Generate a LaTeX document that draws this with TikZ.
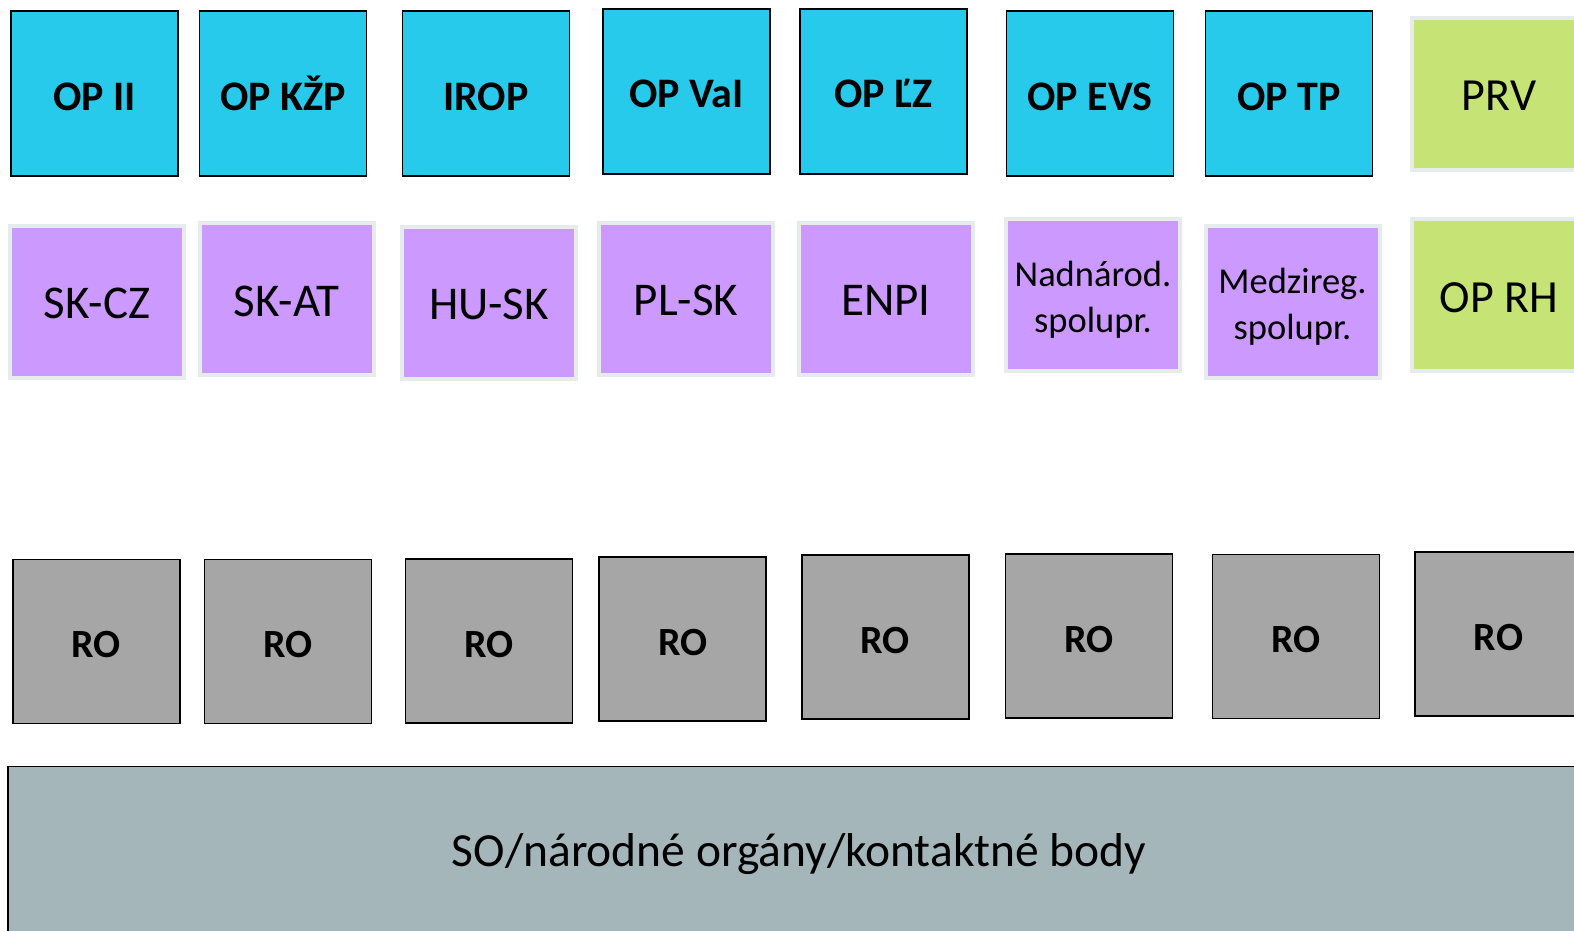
\documentclass[tikz,border=0pt]{standalone}
\usepackage{fontspec}
\setmainfont{Carlito}
\definecolor{opcyan}{HTML}{27CAEA}
\definecolor{ctpurple}{HTML}{CC99FF}
\definecolor{ctborder}{HTML}{E6EBEB}
\definecolor{prgreen}{HTML}{C6E475}
\definecolor{rogray}{HTML}{A6A6A6}
\definecolor{sobox}{HTML}{A5B6BB}
\begin{document}
\begin{tikzpicture}[x=1pt,y=-1pt,
  opbox/.style={draw=black, line width=1.5pt, fill=opcyan, minimum width=167pt, minimum height=165pt, inner sep=0pt, font=\fontsize{42}{50}\selectfont\bfseries, text height=36pt, text depth=3pt},
  ctbox/.style={draw=ctborder, line width=4pt, fill=ctpurple, minimum width=174pt, minimum height=152pt, inner sep=0pt, font=\fontsize{47}{56}\selectfont, text height=37pt, text depth=3.6pt},
  ctsmall/.style={draw=ctborder, line width=4pt, fill=ctpurple, minimum width=174pt, minimum height=152pt, inner sep=0pt, align=center, font=\fontsize{36.5}{46}\selectfont},
  grbox/.style={draw=ctborder, line width=4pt, fill=prgreen, minimum width=174pt, minimum height=152pt, inner sep=0pt, font=\fontsize{46}{55}\selectfont, text height=37pt, text depth=3.4pt},
  robox/.style={draw=black, line width=1.5pt, fill=rogray, minimum width=167pt, minimum height=164pt, inner sep=0pt, font=\fontsize{40}{48}\selectfont\bfseries, text height=35.6pt, text depth=3pt},
  sobox/.style={draw=black, line width=1.5pt, fill=sobox, minimum width=1582pt, minimum height=166pt, inner sep=0pt, font=\fontsize{47.5}{57}\selectfont, text height=38pt, text depth=3.4pt}]
\path[use as bounding box, clip] (0,0) rectangle (1574,930);
\fill[white] (0,0) rectangle (1574,930);
% row 1
\node[opbox] (opii)  at (94.4,93.5)  {OP II};
\node[opbox] (opkzp) at (283.1,93.5) {OP KŽP};
\node[opbox] (irop)  at (485.9,93.5) {IROP};
\node[opbox] (opvai) at (686.6,91.4) {OP VaI};
\node[opbox] (oplz)  at (883.4,91.4) {OP ĽZ};
\node[opbox] (opevs) at (1090.1,93.5) {OP EVS};
\node[opbox] (optp)  at (1288.9,93.5) {OP TP};
\node[grbox] (prv)   at (1499,93.5) {PRV};
% row 2
\node[ctbox] (skcz) at (97,302) {SK-CZ};
\node[ctbox] (skat) at (286.5,299.4) {SK-AT};
\node[ctbox] (husk) at (489,302.5) {HU-SK};
\node[ctbox] (plsk) at (686,299) {PL-SK};
\node[ctbox] (enpi) at (886,299) {ENPI};
\node[ctsmall] (nadnar) at (1093,295.2) {\rule{0pt}{34pt}Nadnárod.\\spolupr.};
\node[ctsmall] (medzir) at (1292.5,302.2) {\rule{0pt}{34pt}Medzireg.\\spolupr.};
\node[grbox] (oprh) at (1499,295.2) {OP RH};
% row 3
\node[robox] (ro1) at (96.4,641.3) {RO};
\node[robox] (ro2) at (288.1,641.3) {RO};
\node[robox] (ro3) at (488.9,641.1) {RO};
\node[robox] (ro4) at (682.6,638.9) {RO};
\node[robox] (ro5) at (885.4,636.9) {RO};
\node[robox] (ro6) at (1089.1,635.9) {RO};
\node[robox] (ro7) at (1296,636.3) {RO};
\node[robox] (ro8) at (1498.5,634.2) {RO};
% bottom
\node[sobox] (so) at (799,849.5) {SO/národné orgány/kontaktné body};
\end{tikzpicture}
\end{document}
